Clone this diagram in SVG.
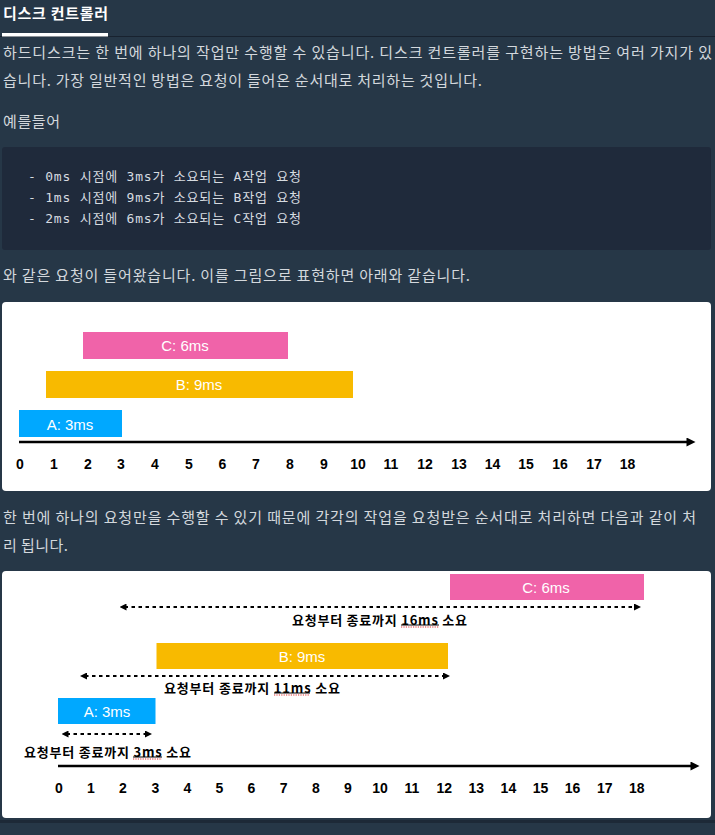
<svg xmlns="http://www.w3.org/2000/svg" width="715" height="835" viewBox="0 0 715 835">
<defs>
<style>
.bg{fill:#263747}
.kr{font-family:"Noto Sans CJK KR","Noto Sans",sans-serif}
.body{fill:#d3d8dd;font-size:15px}
.title{fill:#ffffff;font-size:15px;font-weight:bold}
.code{font-family:"DejaVu Sans Mono","Liberation Mono","Noto Sans CJK KR",monospace;font-size:13px;fill:#d6dbe0}
.panel{fill:#ffffff}
.bar-label{font-family:"Liberation Sans",Arial,sans-serif;font-size:15px;fill:#ffffff;text-anchor:middle}
.tick{font-family:"Liberation Sans",Arial,sans-serif;font-size:14px;font-weight:bold;fill:#000;text-anchor:middle}
.axis{stroke:#000;stroke-width:2.5;fill:none}
.dash{stroke:#000;stroke-width:2;stroke-dasharray:3.5 3.5;fill:none}
.span-label{font-family:"Noto Sans CJK KR","Liberation Sans",sans-serif;font-size:13px;font-weight:bold;fill:#000;text-anchor:middle}
.ul{stroke:#000;stroke-width:1}
.spell{stroke:#e03030;stroke-width:1.2;stroke-dasharray:1.2 1.2}
.a{fill:#00a8ff}
.b{fill:#f8ba00}
.c{fill:#f063a9}
</style>
<marker id="axhead" viewBox="0 0 10 10" refX="5" refY="5" markerWidth="10" markerHeight="9" orient="auto" markerUnits="userSpaceOnUse">
<path d="M0,0 L10,5 L0,10 z" fill="#000"/>
</marker>
<marker id="dhead" viewBox="0 0 7 7" refX="2" refY="3.5" markerWidth="7" markerHeight="7" orient="auto-start-reverse" markerUnits="userSpaceOnUse">
<path d="M0,0 L7,3.5 L0,7 z" fill="#000"/>
</marker>
</defs>

<rect class="bg" x="0" y="0" width="715" height="835"/>

<g id="header">
<text class="kr title" x="3" y="19" textLength="105">디스크 컨트롤러</text>
<rect x="0" y="36" width="715" height="1" fill="#18222f"/>
<rect x="2" y="33" width="106" height="3.5" fill="#ffffff"/>
</g>

<g id="intro">
<text class="kr body" x="3" y="58" textLength="709">하드디스크는 한 번에 하나의 작업만 수행할 수 있습니다. 디스크 컨트롤러를 구현하는 방법은 여러 가지가 있</text>
<text class="kr body" x="3" y="86" textLength="479">습니다. 가장 일반적인 방법은 요청이 들어온 순서대로 처리하는 것입니다.</text>
<text class="kr body" x="3" y="127" textLength="57">예를들어</text>
</g>

<g id="codeblock">
<rect x="2" y="147" width="709" height="103" rx="3" fill="#1f2a3b"/>
<text class="code" x="28" y="181" textLength="273">- 0ms 시점에 3ms가 소요되는 A작업 요청</text>
<text class="code" x="28" y="202" textLength="273">- 1ms 시점에 9ms가 소요되는 B작업 요청</text>
<text class="code" x="28" y="223" textLength="273">- 2ms 시점에 6ms가 소요되는 C작업 요청</text>
</g>

<g id="text2">
<text class="kr body" x="3" y="281" textLength="467">와 같은 요청이 들어왔습니다. 이를 그림으로 표현하면 아래와 같습니다.</text>
</g>

<g id="chart1">
<rect class="panel" x="2" y="302" width="709" height="189" rx="4"/>
<g id="c1-C"><rect class="c" x="83" y="332" width="205" height="27"/><text class="bar-label" x="185" y="351">C: 6ms</text></g>
<g id="c1-B"><rect class="b" x="46" y="371" width="307" height="27"/><text class="bar-label" x="199" y="390">B: 9ms</text></g>
<g id="c1-A"><rect class="a" x="19" y="410" width="103" height="27"/><text class="bar-label" x="70" y="430">A: 3ms</text></g>
<g id="c1-axis">
<line class="axis" x1="19" y1="442" x2="691" y2="442" marker-end="url(#axhead)"/>
<g class="ticks">
<text class="tick" x="20" y="469">0</text>
<text class="tick" x="54" y="469">1</text>
<text class="tick" x="88" y="469">2</text>
<text class="tick" x="121" y="469">3</text>
<text class="tick" x="155" y="469">4</text>
<text class="tick" x="189" y="469">5</text>
<text class="tick" x="222.5" y="469">6</text>
<text class="tick" x="256" y="469">7</text>
<text class="tick" x="290" y="469">8</text>
<text class="tick" x="324" y="469">9</text>
<text class="tick" x="358" y="469">10</text>
<text class="tick" x="391" y="469">11</text>
<text class="tick" x="425" y="469">12</text>
<text class="tick" x="459" y="469">13</text>
<text class="tick" x="492.5" y="469">14</text>
<text class="tick" x="526" y="469">15</text>
<text class="tick" x="560" y="469">16</text>
<text class="tick" x="594" y="469">17</text>
<text class="tick" x="627.5" y="469">18</text>
</g>
</g>
</g>

<g id="text3">
<text class="kr body" x="3" y="523" textLength="693">한 번에 하나의 요청만을 수행할 수 있기 때문에 각각의 작업을 요청받은 순서대로 처리하면 다음과 같이 처</text>
<text class="kr body" x="3" y="551" textLength="65">리 됩니다.</text>
</g>

<g id="chart2">
<rect class="panel" x="2" y="571" width="709" height="247" rx="4"/>
<g id="c2-C"><rect class="c" x="450" y="574" width="194" height="26"/><text class="bar-label" x="546" y="592.5">C: 6ms</text></g>
<g id="c2-B"><rect class="b" x="156.5" y="643" width="291.5" height="26"/><text class="bar-label" x="302" y="661.5">B: 9ms</text></g>
<g id="c2-A"><rect class="a" x="58" y="698" width="97.5" height="26"/><text class="bar-label" x="107" y="716.5">A: 3ms</text></g>

<g id="connectors">
<line class="dash" x1="124.5" y1="607" x2="636" y2="607" marker-start="url(#dhead)" marker-end="url(#dhead)"/>
<line class="dash" x1="85" y1="676" x2="445" y2="676" marker-start="url(#dhead)" marker-end="url(#dhead)"/>
<line class="dash" x1="66.5" y1="734" x2="147" y2="734" marker-start="url(#dhead)" marker-end="url(#dhead)"/>
</g>

<g id="span-labels">
<text class="span-label" x="379.5" y="624.5" textLength="175">요청부터 종료까지 16ms 소요</text>
<line class="ul" x1="401" y1="625" x2="439" y2="625"/>
<line class="spell" x1="401" y1="627" x2="439" y2="627"/>
<text class="span-label" x="252" y="692.5" textLength="176">요청부터 종료까지 11ms 소요</text>
<line class="ul" x1="274" y1="693" x2="310" y2="693"/>
<line class="spell" x1="274" y1="695" x2="310" y2="695"/>
<text class="span-label" x="107.5" y="756.5" textLength="167">요청부터 종료까지 3ms 소요</text>
<line class="ul" x1="133" y1="757" x2="162" y2="757"/>
<line class="spell" x1="133" y1="759" x2="162" y2="759"/>
</g>

<g id="c2-axis">
<line class="axis" x1="58" y1="766" x2="695" y2="766" marker-end="url(#axhead)"/>
<g class="ticks">
<text class="tick" x="59" y="793">0</text>
<text class="tick" x="91" y="793">1</text>
<text class="tick" x="123" y="793">2</text>
<text class="tick" x="155.5" y="793">3</text>
<text class="tick" x="187.5" y="793">4</text>
<text class="tick" x="219.5" y="793">5</text>
<text class="tick" x="251.5" y="793">6</text>
<text class="tick" x="283.7" y="793">7</text>
<text class="tick" x="315.8" y="793">8</text>
<text class="tick" x="347.9" y="793">9</text>
<text class="tick" x="380" y="793">10</text>
<text class="tick" x="412" y="793">11</text>
<text class="tick" x="444.2" y="793">12</text>
<text class="tick" x="476.3" y="793">13</text>
<text class="tick" x="508.4" y="793">14</text>
<text class="tick" x="540.5" y="793">15</text>
<text class="tick" x="572.6" y="793">16</text>
<text class="tick" x="604.7" y="793">17</text>
<text class="tick" x="636.8" y="793">18</text>
</g>
</g>
</g>
<rect x="0" y="820" width="715" height="3" fill="#1d2937"/>
</svg>
